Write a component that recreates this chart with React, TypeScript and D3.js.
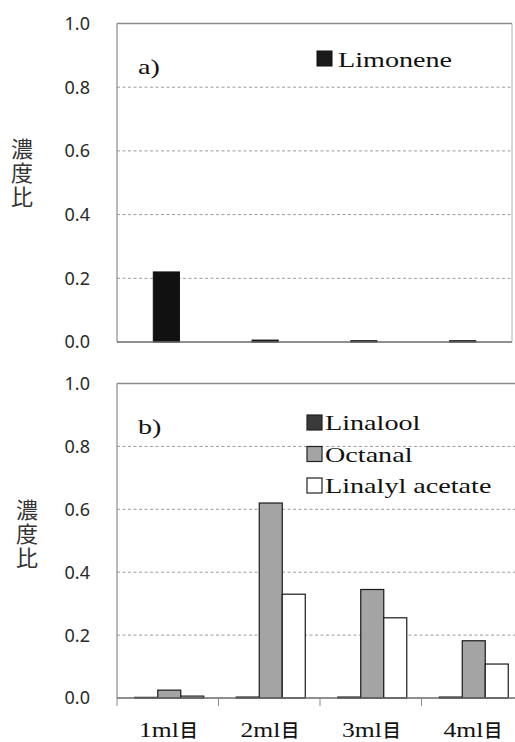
import React from 'react';
import * as d3 from 'd3';

// Fraction names and concentration ratios per fraction
const categories = ['1ml目', '2ml目', '3ml目', '4ml目'];
const catPrefix = ['1ml', '2ml', '3ml', '4ml'];
const limonene = [0.22, 0.006, 0.004, 0.004];
const linalool = [0.002, 0.003, 0.003, 0.003];
const octanal = [0.025, 0.62, 0.345, 0.182];
const linalylAcetate = [0.006, 0.33, 0.255, 0.108];
const yTicks = [0, 0.2, 0.4, 0.6, 0.8, 1.0];
const seriesB = ['Linalool', 'Octanal', 'Linalyl acetate'];
const seriesBValues = [linalool, octanal, linalylAcetate];
const seriesBFill = ['#3a3a3a', '#a4a4a4', '#ffffff'];
const yTitle = '濃度比';

const W = 515;
const H = 742;
const SERIF = '"Liberation Serif", "Times New Roman", serif';
const SANS = '"Noto Sans", "Liberation Sans", sans-serif';
const CJK = '"Noto Sans CJK JP", sans-serif';
const WIDE = 1.28; // horizontal stretch for the wide serif face

type PanelProps = {
  left: number;
  right: number;
  top: number;
  bottom: number;
  tag: string;
  showXTicks: boolean;
  labelX: number;
  labelShift: number;
  children: (x: d3.ScaleBand<string>, y: d3.ScaleLinear<number, number>) => React.ReactNode;
};

function WideText({ x, y, size, anchor = 'start', children }: { x: number; y: number; size: number; anchor?: string; children: React.ReactNode }) {
  return (
    <text
      transform={`translate(${x},${y}) scale(${WIDE},1)`}
      textAnchor={anchor}
      fontFamily={SERIF}
      fontSize={size}
      fill="#111"
    >
      {children}
    </text>
  );
}

function Panel({ left, right, top, bottom, tag, showXTicks, labelX, labelShift, children }: PanelProps) {
  const x = d3.scaleBand<string>().domain(categories).range([left, right]).padding(0);
  const y = d3.scaleLinear().domain([0, 1]).range([bottom, top]);
  const mid = (y(0) + y(1)) / 2;
  return (
    <g>
      {/* dashed gridlines */}
      {yTicks.filter((t) => t > 0 && t < 1).map((t) => (
        <line key={t} x1={left} x2={right} y1={y(t)} y2={y(t)} stroke="#9a9a9a" strokeWidth={1} strokeDasharray="3,2.5" />
      ))}
      {/* frame */}
      <line x1={left} x2={right} y1={y(1)} y2={y(1)} stroke="#8a8a8a" strokeWidth={1.3} />
      <line x1={left} x2={left} y1={y(1)} y2={y(0)} stroke="#8a8a8a" strokeWidth={1.2} />
      <line x1={right} x2={right} y1={y(1)} y2={y(0)} stroke="#b0b0b0" strokeWidth={1} />
      {children(x, y)}
      <line x1={left} x2={right} y1={y(0)} y2={y(0)} stroke="#6a6a6a" strokeWidth={1.3} />
      {showXTicks &&
        categories.map((c) => (
          <line key={c} x1={x(c)!} x2={x(c)!} y1={y(0)} y2={y(0) + 8} stroke="#8a8a8a" strokeWidth={1} />
        ))}
      {/* y tick labels */}
      {yTicks.map((t) => (
        <text key={t} x={left - 27} y={y(t)} dy="0.36em" textAnchor="end" fontFamily={SANS} fontSize={18} fill="#2a2a2a">
          {t.toFixed(1)}
        </text>
      ))}
      {/* y axis title, set vertically */}
      <text
        x={labelX}
        y={mid + labelShift}
        textAnchor="middle"
        fontFamily={CJK}
        fontSize={22}
        letterSpacing={2}
        fill="#333"
        style={{ writingMode: 'vertical-rl', textOrientation: 'upright' } as React.CSSProperties}
      >
        {yTitle}
      </text>
      <WideText x={left + 21} y={y(1) + 50} size={22}>
        {tag}
      </WideText>
    </g>
  );
}

export default function App() {
  return (
    <svg width={W} height={H} style={{ position: 'absolute', left: 0, top: 0, background: '#fff' }}>
      {/* a) Limonene */}
      <Panel left={117} right={512} top={23.5} bottom={342} tag="a)" showXTicks={false} labelX={22} labelShift={-9}>
        {(x, y) => {
          const bw = x.bandwidth() * 0.265;
          return (
            <g>
              {categories.map((c, i) => (
                <rect
                  key={c}
                  x={x(c)! + (x.bandwidth() - bw) / 2}
                  y={y(limonene[i])}
                  width={bw}
                  height={y(0) - y(limonene[i])}
                  fill="#111"
                  stroke="#111"
                  strokeWidth={1}
                />
              ))}
              <rect x={317} y={51} width={15} height={15} fill="#1a1a1a" stroke="#111" />
              <WideText x={338} y={67} size={22}>
                Limonene
              </WideText>
            </g>
          );
        }}
      </Panel>

      {/* b) Linalool / Octanal / Linalyl acetate */}
      <Panel left={117} right={523} top={383.5} bottom={698} tag="b)" showXTicks={true} labelX={27} labelShift={-6}>
        {(x, y) => {
          const gw = x.bandwidth() * 0.68;
          const inner = d3.scaleBand<string>().domain(seriesB).range([0, gw]).padding(0);
          return (
            <g>
              {categories.map((c, i) => (
                <g key={c} transform={`translate(${x(c)! + (x.bandwidth() - gw) / 2 + 1.5},0)`}>
                  {seriesB.map((s, k) => (
                    <rect
                      key={s}
                      x={inner(s)!}
                      y={y(seriesBValues[k][i])}
                      width={inner.bandwidth()}
                      height={y(0) - y(seriesBValues[k][i])}
                      fill={seriesBFill[k]}
                      stroke="#1a1a1a"
                      strokeWidth={1.2}
                    />
                  ))}
                </g>
              ))}
              {seriesB.map((s, k) => (
                <g key={s}>
                  <rect x={307} y={415 + k * 31.5} width={15} height={15} fill={seriesBFill[k]} stroke="#222" strokeWidth={1.2} />
                  <WideText x={325} y={430 + k * 31.5} size={22}>
                    {s}
                  </WideText>
                </g>
              ))}
              {categories.map((c, i) => {
                const cx = x(c)! + x.bandwidth() / 2 - 1;
                return (
                  <g key={c}>
                    <WideText x={cx + 12} y={737} size={20} anchor="end">
                      {catPrefix[i]}
                    </WideText>
                    <text x={cx + 13} y={737} fontFamily={CJK} fontWeight={500} fontSize={18} fill="#111">
                      {c.slice(catPrefix[i].length)}
                    </text>
                  </g>
                );
              })}
            </g>
          );
        }}
      </Panel>
    </svg>
  );
}
